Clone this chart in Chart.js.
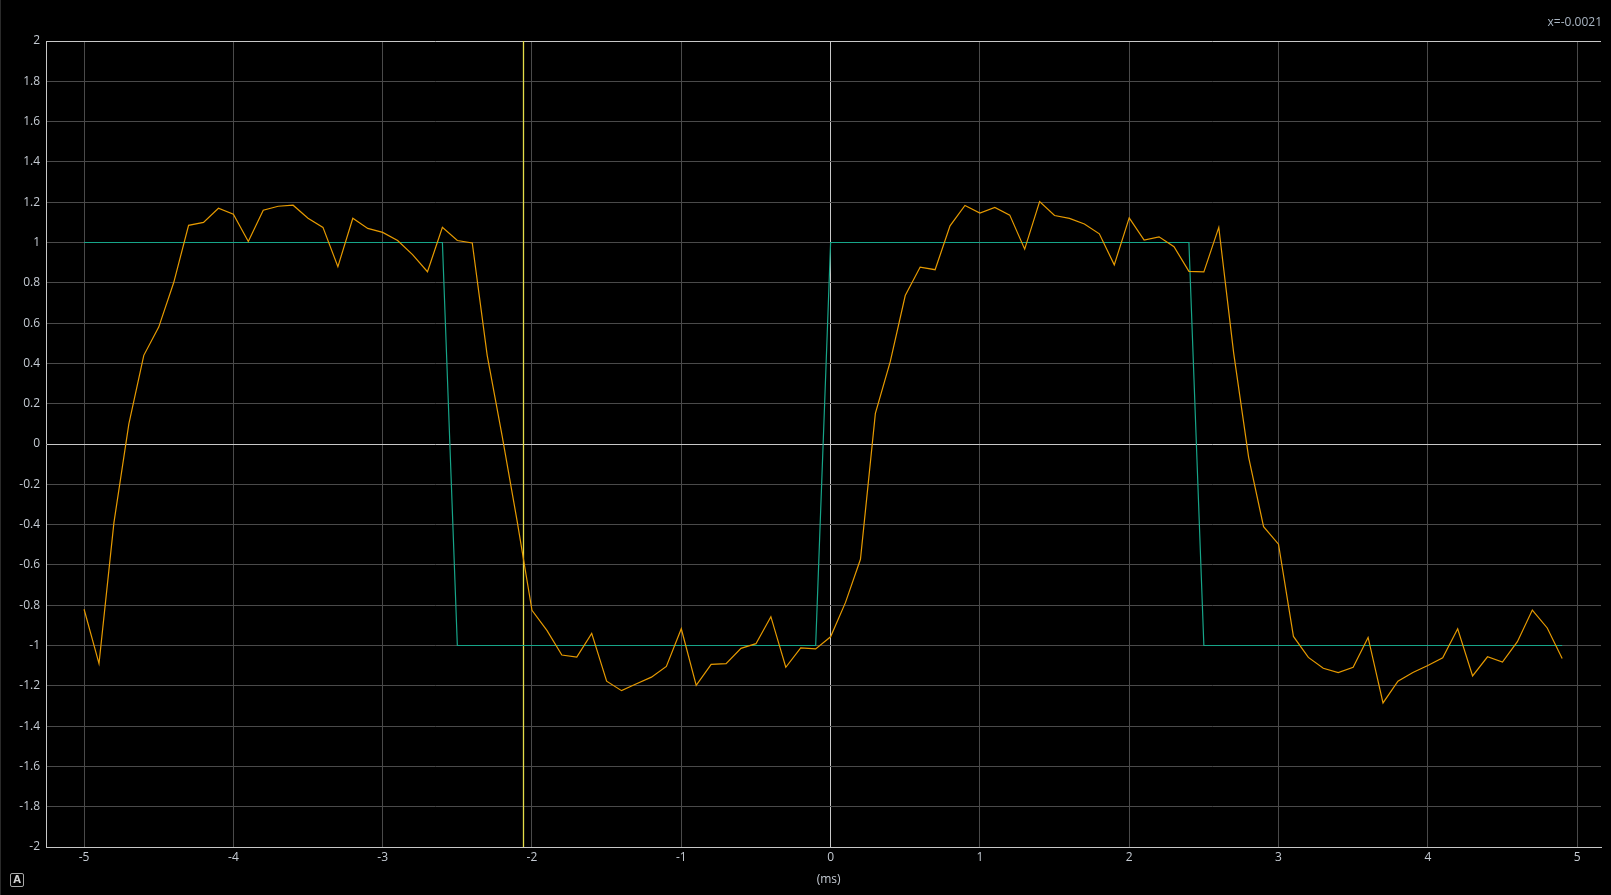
<!DOCTYPE html>
<html><head><meta charset="utf-8">
<script src="https://cdn.jsdelivr.net/npm/chart.js@4.4.0/dist/chart.umd.min.js"></script>
<style>
html,body{margin:0;padding:0;background:#000;overflow:hidden}
#wrap{position:relative;width:1611px;height:895px;background:#000}
canvas{display:block}
#edge{position:absolute;left:0;top:0;width:1px;height:895px;background:#2a2a2a}
#abtn{position:absolute;left:10px;top:873px;width:12px;height:12px;border:1px solid #a8a8a8;border-radius:2px;color:#d0d0d0;font:bold 10px "DejaVu Sans",sans-serif;line-height:12px;text-align:center}
</style></head><body>
<div id="wrap"><canvas id="c" width="1611" height="895"></canvas><div id="edge"></div><div id="abtn">A</div></div>
<script>
const timeMs = [-5.0,-4.9,-4.8,-4.7,-4.6,-4.5,-4.4,-4.3,-4.2,-4.1,-4.0,-3.9,-3.8,-3.7,-3.6,-3.5,-3.4,-3.3,-3.2,-3.1,
  -3.0,-2.9,-2.8,-2.7,-2.6,-2.5,-2.4,-2.3,-2.2,-2.1,-2.0,-1.9,-1.8,-1.7,-1.6,-1.5,-1.4,-1.3,-1.2,-1.1,
  -1.0,-0.9,-0.8,-0.7,-0.6,-0.5,-0.4,-0.3,-0.2,-0.1,0.0,0.1,0.2,0.3,0.4,0.5,0.6,0.7,0.8,0.9,
  1.0,1.1,1.2,1.3,1.4,1.5,1.6,1.7,1.8,1.9,2.0,2.1,2.2,2.3,2.4,2.5,2.6,2.7,2.8,2.9,
  3.0,3.1,3.2,3.3,3.4,3.5,3.6,3.7,3.8,3.9,4.0,4.1,4.2,4.3,4.4,4.5,4.6,4.7,4.8,4.9];
const referenceSquare = [1,1,1,1,1,1,1,1,1,1,1,1,1,1,1,1,1,1,1,1,
  1,1,1,1,1,-1,-1,-1,-1,-1,-1,-1,-1,-1,-1,-1,-1,-1,-1,-1,
  -1,-1,-1,-1,-1,-1,-1,-1,-1,-1,1,1,1,1,1,1,1,1,1,1,
  1,1,1,1,1,1,1,1,1,1,1,1,1,1,1,-1,-1,-1,-1,-1,
  -1,-1,-1,-1,-1,-1,-1,-1,-1,-1,-1,-1,-1,-1,-1,-1,-1,-1,-1,-1];
const measured = [-0.82,-1.09,-0.39,0.10,0.44,0.58,0.80,1.085,1.10,1.17,1.14,1.005,1.16,1.18,1.185,1.12,1.075,0.88,1.12,1.07,
  1.05,1.01,0.94,0.855,1.075,1.01,0.998,0.44,0.04,-0.38,-0.825,-0.925,-1.047,-1.057,-0.94,-1.177,-1.224,-1.19,-1.157,-1.104,
  -0.917,-1.198,-1.094,-1.09,-1.014,-0.991,-0.857,-1.108,-1.012,-1.017,-0.957,-0.786,-0.572,0.152,0.41,0.737,0.878,0.865,1.083,1.184,
  1.146,1.174,1.136,0.967,1.203,1.134,1.12,1.092,1.043,0.889,1.122,1.012,1.028,0.979,0.857,0.854,1.075,0.45,-0.066,-0.41,
  -0.497,-0.955,-1.059,-1.113,-1.134,-1.108,-0.96,-1.285,-1.177,-1.134,-1.099,-1.061,-0.917,-1.151,-1.056,-1.082,-0.981,-0.824,-0.913,-1.064];
const xTickValues = [-5,-4,-3,-2,-1,0,1,2,3,4,5];
const yTickValues = [-2,-1.8,-1.6,-1.4,-1.2,-1,-0.8,-0.6,-0.4,-0.2,0,0.2,0.4,0.6,0.8,1,1.2,1.4,1.6,1.8,2];
const yTickLabels = ['-2','-1.8','-1.6','-1.4','-1.2','-1','-0.8','-0.6','-0.4','-0.2','0','0.2','0.4','0.6','0.8','1','1.2','1.4','1.6','1.8','2'];
const cursorX = -2.063;
const cursorLabel = 'x=-0.0021';
const xAxisTitle = '(ms)';

const FONT = '"Segoe UI","Open Sans","Noto Sans",sans-serif';
const LABEL = '#c5cbd3';
const GRID = '#4a4a4a';
const LIGHT = '#c8c8c8';

const overlay = {
  id: 'overlay',
  beforeDatasetsDraw(chart) {
    const {ctx, chartArea: a, scales: {x}} = chart;
    const px = Math.round(x.getPixelForValue(cursorX)) + 0.5;
    ctx.save();
    ctx.strokeStyle = '#e4dc48';
    ctx.lineWidth = 1.3;
    ctx.beginPath();
    ctx.moveTo(px, a.top);
    ctx.lineTo(px, a.bottom);
    ctx.stroke();
    ctx.restore();
  },
  afterDraw(chart) {
    const {ctx, scales: {x}} = chart;
    ctx.save();
    ctx.font = '12px ' + FONT;
    ctx.fillStyle = '#a9b5c2';
    ctx.textAlign = 'right';
    ctx.textBaseline = 'middle';
    ctx.fillText(cursorLabel, 1602, 23);
    ctx.fillStyle = LABEL;
    ctx.textAlign = 'center';
    ctx.fillText(xAxisTitle, x.getPixelForValue(0) - 2, 880);
    ctx.restore();
  }
};

new Chart(document.getElementById('c'), {
  type: 'line',
  data: {
    datasets: [
      {
        label: 'measured',
        data: timeMs.map((t, i) => ({x: t, y: measured[i]})),
        borderColor: '#e69a00',
        borderWidth: 1.2,
        pointRadius: 0,
        tension: 0,
        fill: false
      },
      {
        label: 'reference',
        data: timeMs.map((t, i) => ({x: t, y: referenceSquare[i]})),
        borderColor: '#17a589',
        borderWidth: 1.2,
        pointRadius: 0,
        tension: 0,
        fill: false
      }
    ]
  },
  options: {
    responsive: false,
    animation: false,
    devicePixelRatio: 1,
    layout: {padding: {top: 41, right: 10, left: 0, bottom: 0}},
    plugins: {legend: {display: false}, tooltip: {enabled: false}},
    scales: {
      x: {
        type: 'linear',
        min: -5.255,
        max: 5.16,
        afterBuildTicks: s => { s.ticks = xTickValues.map(v => ({value: v})); },
        afterFit: s => { s.height = 48; },
        grid: {
          color: c => (c.tick && c.tick.value === 0) ? LIGHT : GRID,
          lineWidth: 1,
          drawTicks: false
        },
        border: {display: true, color: LIGHT, width: 1},
        ticks: {color: LABEL, padding: 3, font: {family: FONT, size: 12}, maxRotation: 0, autoSkip: false,
          callback: (v) => String(v)}
      },
      y: {
        type: 'linear',
        min: -2,
        max: 2,
        afterBuildTicks: s => { s.ticks = yTickValues.map(v => ({value: v})); },
        afterFit: s => { s.width = 46; },
        grid: {
          color: c => (c.tick && (Math.abs(c.tick.value) < 1e-9 || c.tick.value === 2)) ? LIGHT : GRID,
          lineWidth: 1,
          drawTicks: false
        },
        border: {display: true, color: LIGHT, width: 1},
        ticks: {color: LABEL, padding: 6, font: {family: FONT, size: 12}, autoSkip: false,
          callback: (v, i) => yTickLabels[i]}
      }
    }
  },
  plugins: [overlay]
});
</script>
</body></html>
